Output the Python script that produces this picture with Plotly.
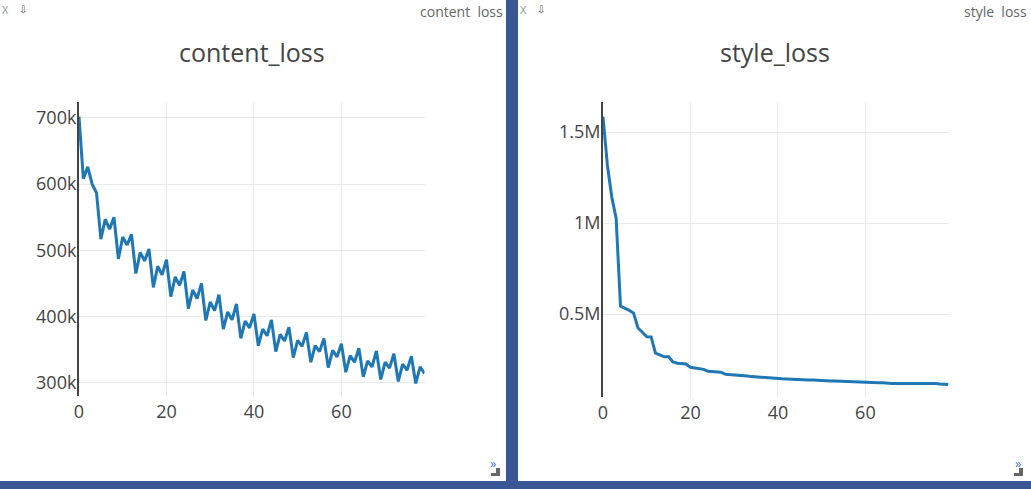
import plotly.graph_objects as go

content_loss = [702000, 608000, 626000, 600000, 587000, 517000, 547000, 532000, 550000, 487000,
                520000, 508000, 524000, 465000, 497000, 484000, 502000, 444000, 476000, 463000,
                486000, 430000, 460000, 447000, 468000, 412000, 440000, 427000, 450000, 394000,
                422000, 409000, 433000, 381000, 407000, 395000, 419000, 367000, 393000, 383000,
                404000, 356000, 381000, 371000, 395000, 347000, 373000, 363000, 384000, 338000,
                364000, 355000, 376000, 331000, 356000, 347000, 367000, 323000, 349000, 339000,
                359000, 316000, 341000, 331000, 352000, 309000, 333000, 324000, 348000, 305000,
                331000, 322000, 344000, 302000, 328000, 319000, 340000, 299000, 324000, 314000]
style_loss = [1584000, 1319000, 1143000, 1027000, 544000, 533000, 520000, 505000, 423000, 400000,
              375000, 374000, 285000, 275000, 265000, 265000, 237000, 230000, 229000, 225000,
              207000, 203000, 200000, 196000, 185000, 183000, 181000, 180000, 169000, 167000,
              169000, 167000, 163000, 159000, 156000, 154000, 150000, 148000, 150000, 148000,
              146000, 144000, 143000, 141000, 141000, 139000, 137000, 137000, 137000, 135000,
              135000, 134000, 132000, 132000, 131000, 126000, 125000, 125000, 125000, 124000,
              124000, 124000, 120000, 122000, 122000, 118000, 118000, 118000, 118000, 118000,
              118000, 118000, 120000, 118000, 118000, 119000, 118000, 115000, 115000, 113000]
steps = list(range(len(content_loss)))
x_ticks = [0, 20, 40, 60]
content_ticks = [300000, 400000, 500000, 600000, 700000]
content_labels = ["300k", "400k", "500k", "600k", "700k"]
style_ticks = [500000, 1000000, 1500000]
style_labels = ["0.5M", "1M", "1.5M"]
titles = ["content_loss", "style_loss"]
tab_labels = ["content  loss", "style  loss"]

W, H = 1031, 489
BLUE = "#3A5795"
INK = "#444444"
LINE = "#1F77B4"
GRID = "#EBEBEB"


def px(x):
    return x / W


def py(y):
    return 1 - y / H


fig = go.Figure()
fig.add_trace(go.Scatter(x=steps, y=content_loss, mode="lines", xaxis="x", yaxis="y",
                         line=dict(color=LINE, width=3), showlegend=False))
fig.add_trace(go.Scatter(x=steps, y=style_loss, mode="lines", xaxis="x2", yaxis="y2",
                         line=dict(color=LINE, width=3), showlegend=False))

xcommon = dict(tickmode="array", tickvals=x_ticks, range=[0, 79], showline=False, zeroline=False,
               showgrid=True, gridcolor=GRID, gridwidth=1, ticks="", ticklabelstandoff=3,
               tickfont=dict(family="Open Sans", size=18, color=INK))
ycommon = dict(tickmode="array", showline=True, linecolor=INK, linewidth=2, zeroline=False,
               showgrid=True, gridcolor=GRID, gridwidth=1, ticks="", ticklabelstandoff=-3,
               tickfont=dict(family="Open Sans", size=18, color=INK))

fig.update_layout(
    width=W, height=H, margin=dict(l=0, r=0, t=0, b=0, autoexpand=False),
    paper_bgcolor=BLUE, plot_bgcolor="rgba(0,0,0,0)", showlegend=False,
    xaxis=dict(domain=[px(79), px(424.5)], anchor="y", **xcommon),
    yaxis=dict(domain=[py(396), py(102)], anchor="x", range=[280000, 724000],
               tickvals=content_ticks, ticktext=content_labels, **ycommon),
    xaxis2=dict(domain=[px(603), px(948.5)], anchor="y2", **xcommon),
    yaxis2=dict(domain=[py(397), py(102)], anchor="x2", range=[44000, 1665000],
                tickvals=style_ticks, ticktext=style_labels, **ycommon),
)

shapes = []
annotations = []
panels = [(0, 506, 252, 505), (518, 1031, 775, 1029)]
for i, (left, right, centre, tab_right) in enumerate(panels):
    shapes.append(dict(type="rect", xref="paper", yref="paper", layer="below", line_width=0,
                       fillcolor="white", x0=px(left), x1=px(right), y0=py(481), y1=py(0)))
    # resize handle
    hx = right - 14 if i == 0 else right - 16
    for x0, x1, y0, y1 in [(hx - 1, hx + 8, 473, 476), (hx + 4, hx + 8, 468, 476)]:
        shapes.append(dict(type="rect", xref="paper", yref="paper", line_width=0,
                           fillcolor="#666666", x0=px(x0), x1=px(x1), y0=py(y1), y1=py(y0)))
    annotations += [
        dict(text=titles[i], x=px(centre), y=py(52), font=dict(family="Open Sans", size=25, color=INK),
             xanchor="center", yanchor="middle"),
        dict(text=tab_labels[i], x=px(tab_right), y=py(11), font=dict(family="Open Sans", size=14, color="#666666"),
             xanchor="right", yanchor="middle"),
        dict(text="X", x=px(left + 5), y=py(10), font=dict(family="Open Sans", size=11, color="#8899AA"),
             xanchor="center", yanchor="middle"),
        dict(text="⇩", x=px(left + 23), y=py(10), font=dict(family="DejaVu Sans", size=10, color="#555555"),
             xanchor="center", yanchor="middle"),
        dict(text="»", x=px(right - 13), y=py(463), font=dict(family="Open Sans", size=13, color="#4477EE"),
             xanchor="center", yanchor="middle"),
    ]
for a in annotations:
    a.update(xref="paper", yref="paper", showarrow=False)
fig.update_layout(shapes=shapes, annotations=annotations)

fig.write_html("out.html", config=dict(displayModeBar=False),
               post_script="document.body.style.margin='0';document.body.style.overflow='hidden';")
